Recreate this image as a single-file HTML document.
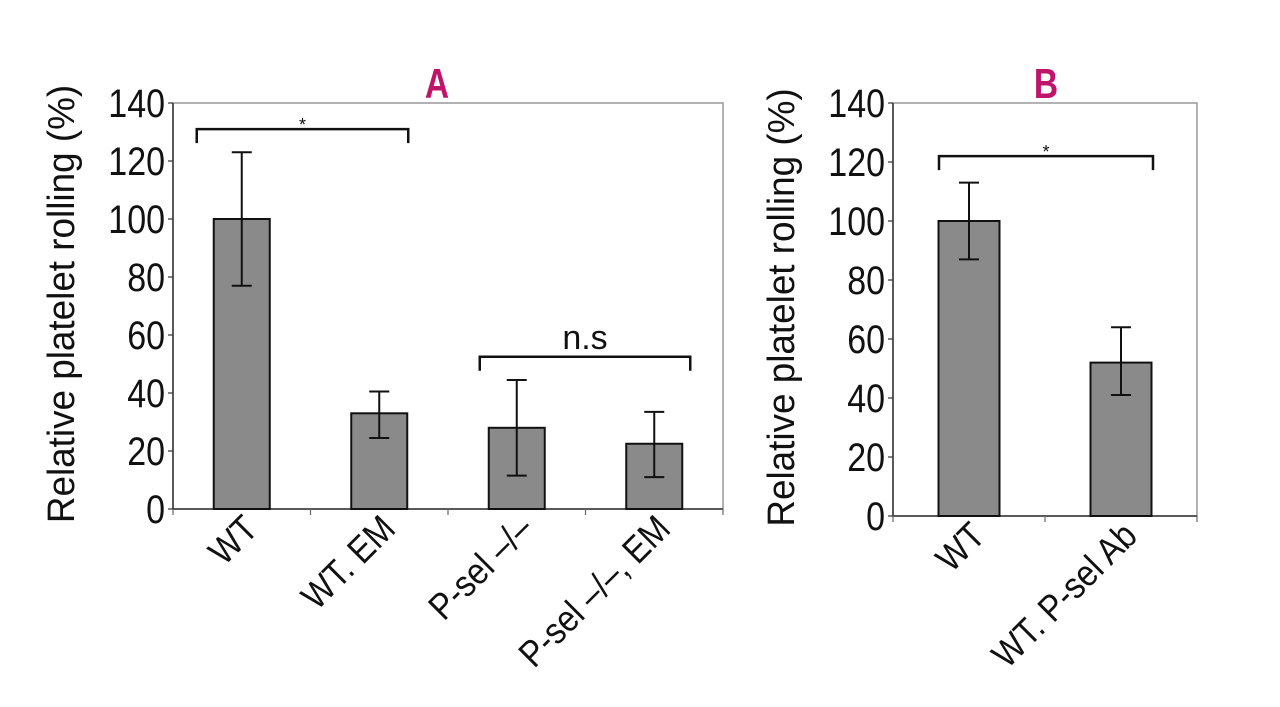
<!DOCTYPE html>
<html><head><meta charset="utf-8"><style>
body{margin:0;background:#fff;}
svg{display:block;font-family:"Liberation Sans",sans-serif;}
</style></head><body>
<svg id="s" width="1280" height="707" viewBox="0 0 1280 707"></svg>
<script>
const catsA=["WT","WT. EM","P-sel \u2013/\u2013","P-sel \u2013/\u2013, EM"];
const valsA=[100,33,28,22.5];
const loA=[77,24.5,11.5,11];
const hiA=[123,40.5,44.5,33.5];
const catsB=["WT","WT. P-sel Ab"];
const valsB=[100,52];
const loB=[87,41];
const hiB=[113,64];
const ticks=[0,20,40,60,80,100,120,140];

const NS="http://www.w3.org/2000/svg";
const svg=document.getElementById('s');
function mk(tag,attrs,parent){const e=document.createElementNS(NS,tag);for(const k in attrs)e.setAttribute(k,attrs[k]);(parent||svg).appendChild(e);return e;}

function panel(name,L,R,T,B,cats,vals,lo,hi,barW,title,titleX,brackets){
  const g=mk('g',{});
  
  
  const y=v=>B-(v/140)*(B-T);
  const cw=(R-L)/cats.length;
  const cx=i=>L+cw*(i+0.5);
  const frame=mk('rect',{x:L,y:T,width:R-L,height:B-T,fill:'none',stroke:'#999','stroke-width':1.5},g);
  
  const ya=mk('line',{x1:L,y1:T,x2:L,y2:B,stroke:'#333','stroke-width':1.5},g);
  
  const xa=mk('line',{x1:L,y1:B,x2:R,y2:B,stroke:'#333','stroke-width':1.5},g);
  
  ticks.forEach(t=>{
    mk('line',{x1:L-5,y1:y(t),x2:L,y2:y(t),stroke:'#333','stroke-width':1.2},g);
    const tx=mk('text',{x:0,y:0,'font-size':40,'text-anchor':'end',transform:`translate(${L-8},${y(t)+14}) scale(0.85,1)`,fill:'#111'},g);
    tx.textContent=t;
    
  });
  for(let i=0;i<=cats.length;i++){mk('line',{x1:L+cw*i,y1:B,x2:L+cw*i,y2:B+6,stroke:'#666','stroke-width':1.2},g);}
  cats.forEach((c,i)=>{
    const b=mk('rect',{x:cx(i)-barW/2,y:y(vals[i]),width:barW,height:B-y(vals[i]),fill:'#8a8a8a',stroke:'#111','stroke-width':2},g);
    
    const e=mk('path',{d:`M${cx(i)},${y(hi[i])}V${y(lo[i])}M${cx(i)-10},${y(hi[i])}h20M${cx(i)-10},${y(lo[i])}h20`,stroke:'#111','stroke-width':2,fill:'none'},g);
    
    const t=mk('text',{x:0,y:0,'font-size':37,'text-anchor':'end',transform:`translate(${cx(i)+18},${B+22}) rotate(-45) scale(0.88,1)`,fill:'#111'},g);
    t.textContent=c;
    
  });
  const yt=mk('text',{x:0,y:0,'font-size':38,'text-anchor':'middle',transform:`translate(${L-99},${(T+B)/2-2}) rotate(-90) scale(0.97,1)`,fill:'#111'},g);
  yt.textContent='Relative platelet rolling (%)';
  
  const tt=mk('text',{x:titleX,y:T-5,'font-size':42,'font-weight':'bold','text-anchor':'middle',fill:'#c0146a',transform:`translate(${titleX*0.2},0) scale(0.8,1)`},g);
  tt.textContent=title;
  
  brackets.forEach(br=>{
    const x1=cx(br.a)-br.pa,x2=cx(br.b)+br.pb,by=y(br.v);
    const p=mk('path',{d:`M${x1},${by+14}V${by}H${x2}V${by+14}`,stroke:'#111','stroke-width':2.5,fill:'none'},g);
    
    const s=mk('text',{x:(x1+x2)/2,y:by-(br.t==='*'?-2:8),'font-size':br.t==='*'?18:34,'text-anchor':'middle',fill:'#111'},g);
    s.textContent=br.t;
    
  });
}
panel('panel-a',173,723,103,509,catsA,valsA,loA,hiA,56,'A',437,
  [{a:0,b:1,v:131,t:'*',pa:45,pb:29},{a:2,b:3,v:52.5,t:'n.s',pa:37,pb:36}]);
panel('panel-b',893,1197,103,516,catsB,valsB,loB,hiB,61,'B',1046,
  [{a:0,b:1,v:122,t:'*',pa:30,pb:32}]);
</script>
</body></html>
